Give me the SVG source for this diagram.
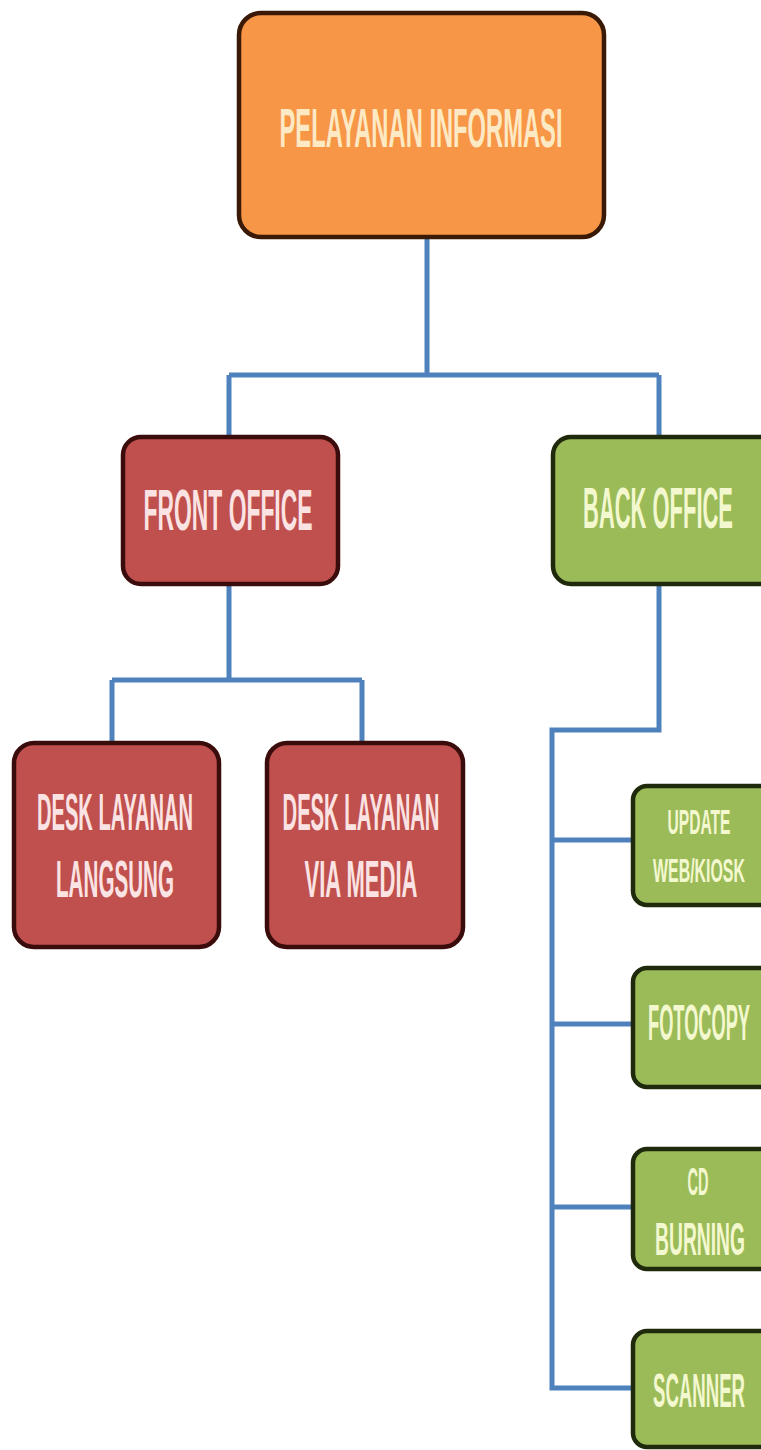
<svg xmlns="http://www.w3.org/2000/svg" width="761" height="1450" viewBox="0 0 761 1450">
<style>
.conn{fill:none;stroke:#4F81BD;stroke-width:5;stroke-linejoin:miter}
.o{fill:#F79646;stroke:#3a1a06;stroke-width:4.5}
.r{fill:#C0504D;stroke:#3a0d0c;stroke-width:4.5}
.g{fill:#9BBB59;stroke:#1f2a0c;stroke-width:4.5}
text{font-family:"Liberation Sans",Arial,sans-serif;font-weight:bold;text-anchor:middle}
.to{fill:#FDE9C4}
.tr{fill:#FBE3E3}
.tg{fill:#F3F8CF}
</style>
<rect width="761" height="1450" fill="#ffffff"/>
<g id="connectors">
<path class="conn" d="M427 238 V375 M229 375 H659 M229 375 V438 M659 375 V438"/>
<path class="conn" d="M229 585 V680 M112 680 H362 M112 680 V742 M362 680 V742"/>
<path class="conn" d="M659 585 V730 H552 V1388 H634 M552 840 H634 M552 1024 H634 M552 1207 H634"/>
</g>
<g id="pelayanan-informasi">
<rect class="o" x="239" y="13" width="365" height="224" rx="22"/>
<text class="to" transform="translate(421 147) scale(0.425 1)" font-size="55" textLength="666" lengthAdjust="spacingAndGlyphs">PELAYANAN INFORMASI</text>
</g>
<g id="front-office">
<rect class="r" x="123" y="437" width="215" height="147" rx="18"/>
<text class="tr" transform="translate(228 530) scale(0.394 1)" font-size="58" textLength="429" lengthAdjust="spacingAndGlyphs">FRONT OFFICE</text>
</g>
<g id="back-office">
<rect class="g" x="553" y="437" width="225" height="147" rx="18"/>
<text class="tg" transform="translate(658 528) scale(0.3785 1)" font-size="58" textLength="396" lengthAdjust="spacingAndGlyphs">BACK OFFICE</text>
</g>
<g id="desk-langsung">
<rect class="r" x="14" y="743" width="205" height="204" rx="20"/>
<text class="tr" transform="translate(115 830) scale(0.378 1)" font-size="52" textLength="413" lengthAdjust="spacingAndGlyphs">DESK LAYANAN</text>
<text class="tr" transform="translate(115 897) scale(0.3966 1)" font-size="52" textLength="297.5" lengthAdjust="spacingAndGlyphs">LANGSUNG</text>
</g>
<g id="desk-via-media">
<rect class="r" x="267" y="743" width="196" height="204" rx="20"/>
<text class="tr" transform="translate(361 830) scale(0.38 1)" font-size="52" textLength="413" lengthAdjust="spacingAndGlyphs">DESK LAYANAN</text>
<text class="tr" transform="translate(361 897) scale(0.4205 1)" font-size="52" textLength="268.7" lengthAdjust="spacingAndGlyphs">VIA MEDIA</text>
</g>
<g id="update-web-kiosk">
<rect class="g" x="633" y="786" width="145" height="119" rx="14"/>
<text class="tg" transform="translate(699 834) scale(0.4257 1)" font-size="36" textLength="148" lengthAdjust="spacingAndGlyphs">UPDATE</text>
<text class="tg" transform="translate(699 882) scale(0.468 1)" font-size="34" textLength="196.5" lengthAdjust="spacingAndGlyphs">WEB/KIOSK</text>
</g>
<g id="fotocopy">
<rect class="g" x="633" y="968" width="145" height="119" rx="14"/>
<text class="tg" transform="translate(699 1040) scale(0.3635 1)" font-size="50" textLength="280.6" lengthAdjust="spacingAndGlyphs">FOTOCOPY</text>
</g>
<g id="cd-burning">
<rect class="g" x="633" y="1149" width="145" height="120" rx="14"/>
<text class="tg" transform="translate(698 1195) scale(0.3826 1)" font-size="38" textLength="54.9" lengthAdjust="spacingAndGlyphs">CD</text>
<text class="tg" transform="translate(700 1255) scale(0.419 1)" font-size="46" textLength="214.6" lengthAdjust="spacingAndGlyphs">BURNING</text>
</g>
<g id="scanner">
<rect class="g" x="633" y="1331" width="145" height="116" rx="14"/>
<text class="tg" transform="translate(699 1407) scale(0.3877 1)" font-size="48" textLength="237.3" lengthAdjust="spacingAndGlyphs">SCANNER</text>
</g>
</svg>
